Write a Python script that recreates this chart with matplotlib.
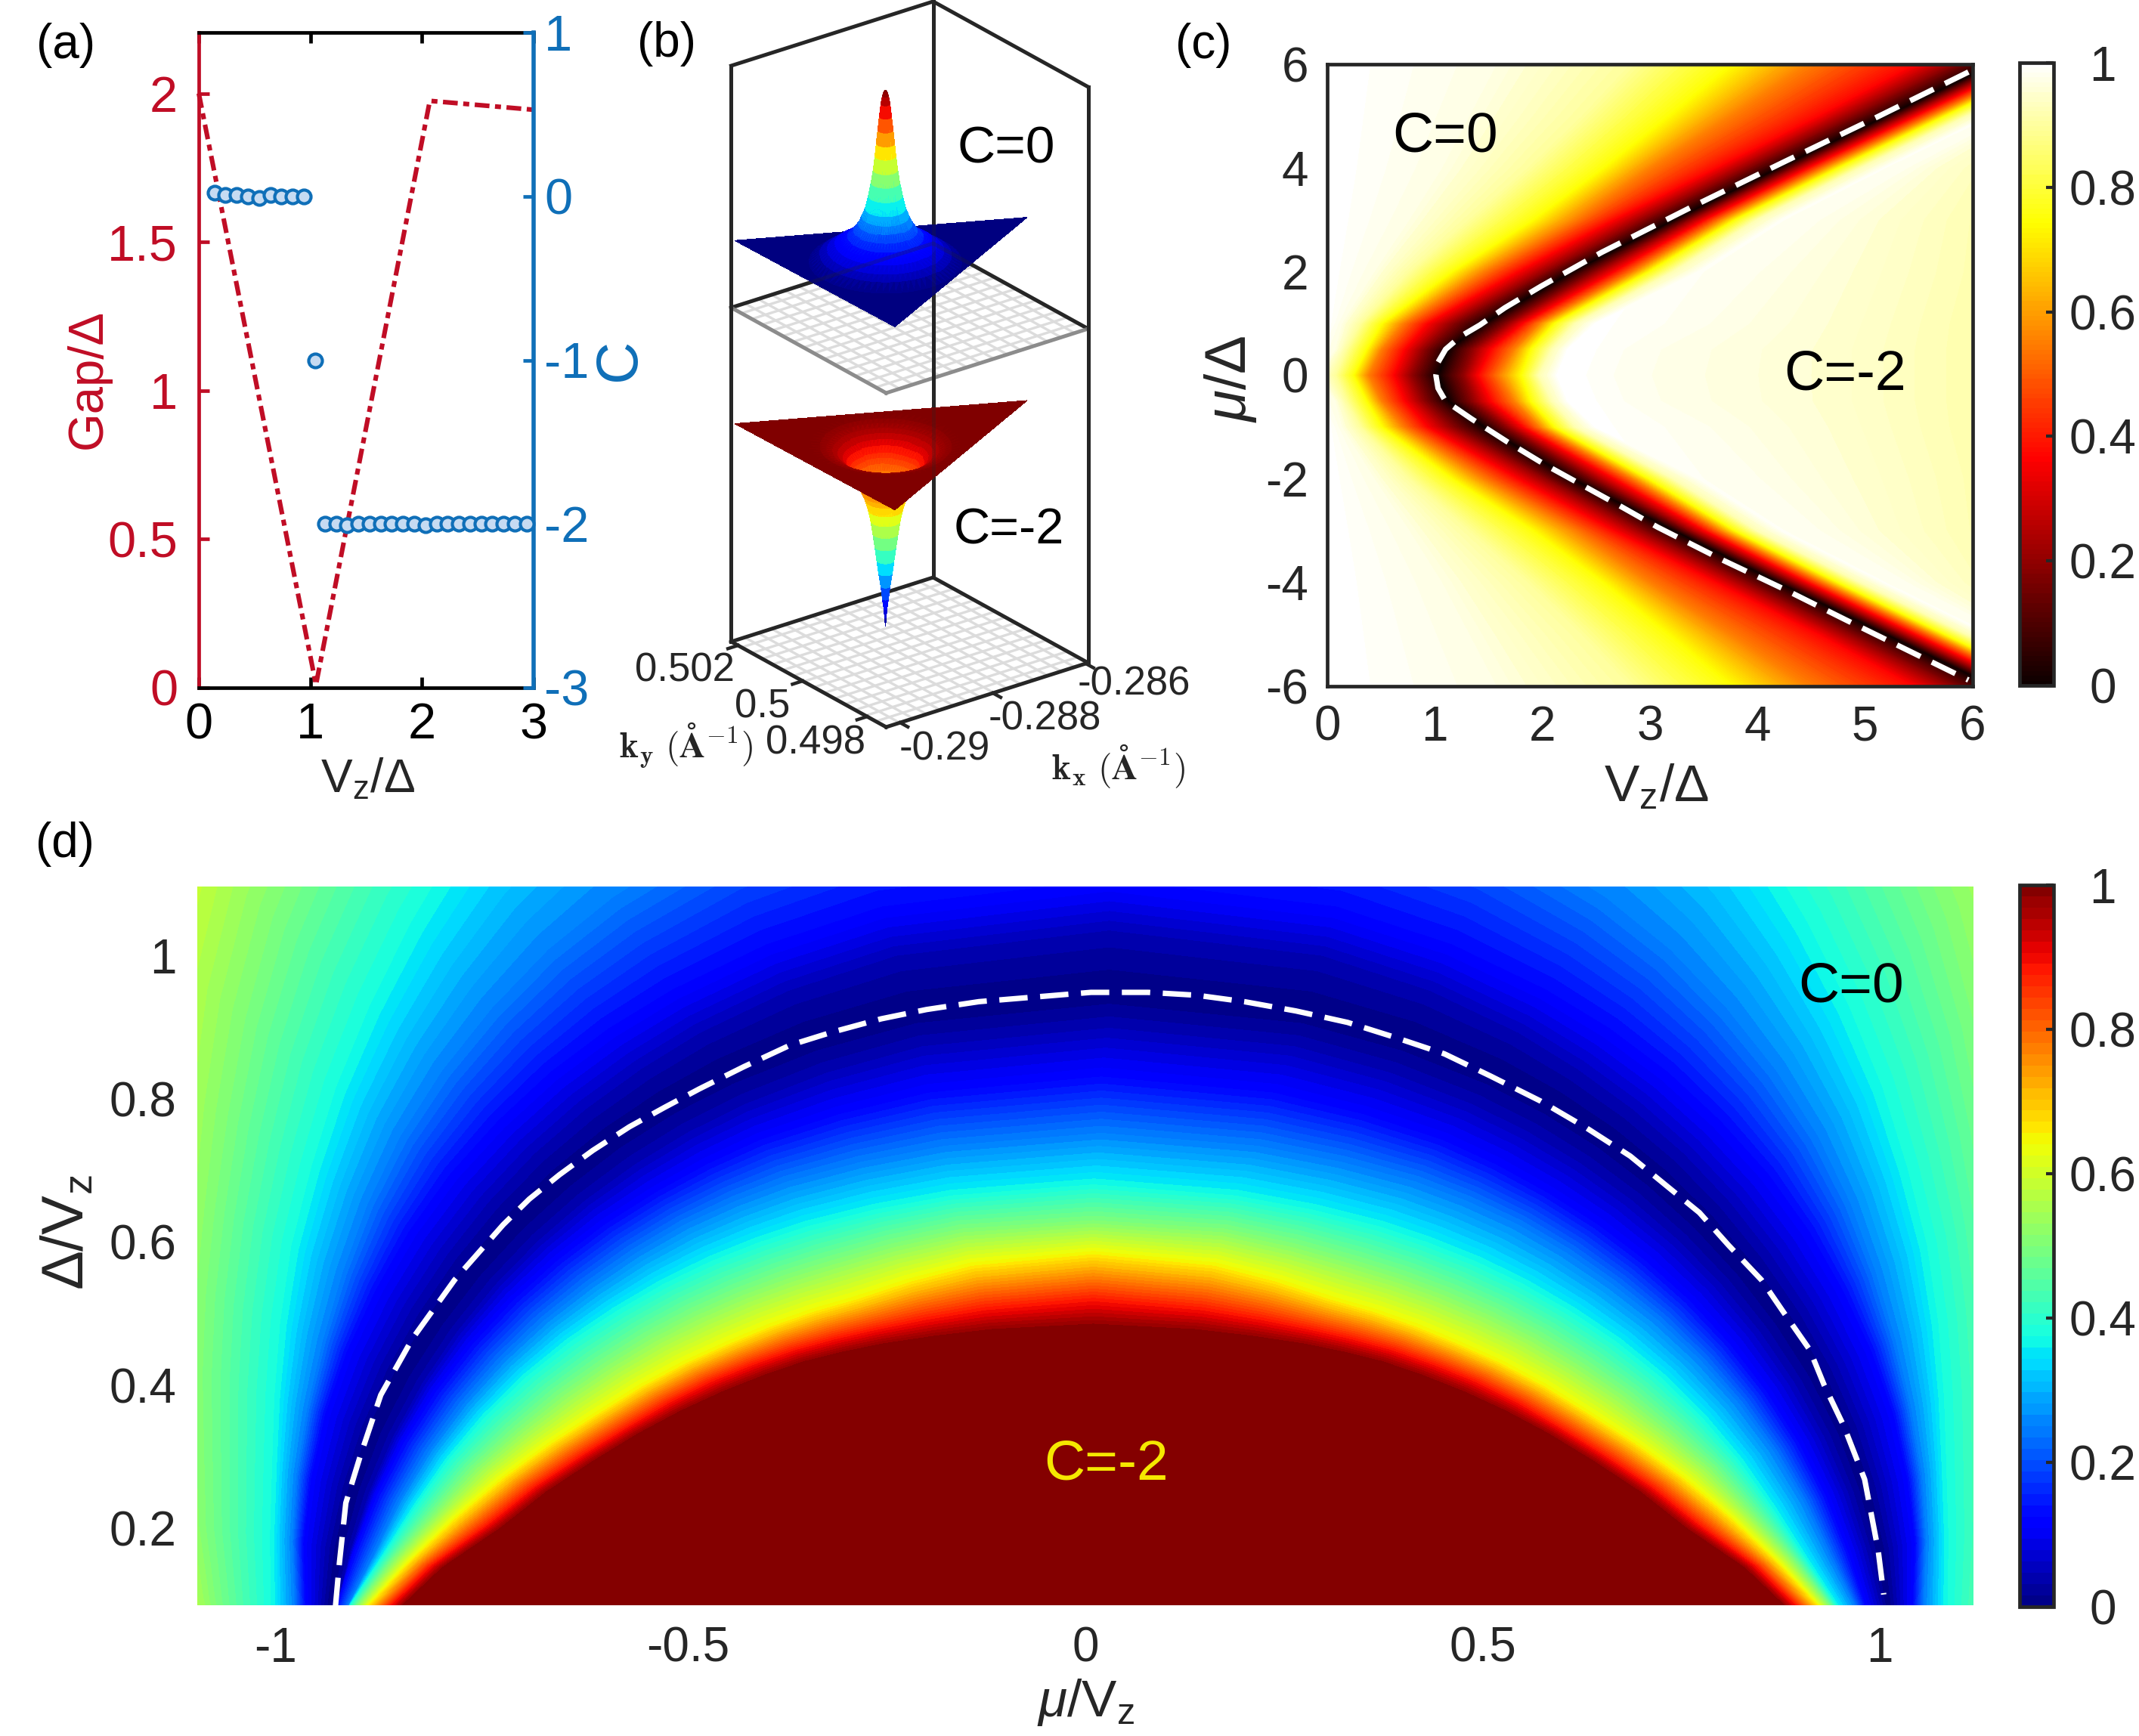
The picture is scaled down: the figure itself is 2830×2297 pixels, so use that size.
import numpy as np
import matplotlib
matplotlib.use("Agg")
import matplotlib.pyplot as plt
from matplotlib.transforms import ScaledTranslation

plt.rcParams['font.family'] = ['Liberation Sans', 'DejaVu Sans']
plt.rcParams['mathtext.fontset'] = 'custom'
plt.rcParams['mathtext.rm'] = 'Liberation Sans'
plt.rcParams['mathtext.it'] = 'Liberation Sans:italic'
plt.rcParams['axes.unicode_minus'] = False

W, H = 2830, 2297
DARK = '#262626'
RED = '#c00d25'
BLUE = '#0f6fb8'

# (a) gap and Chern number
gap_v = [0, 1.05, 2.07, 3]
gap_val = [2.0, 0.01, 1.975, 1.945]
c_v1 = [0.14, 0.24, 0.34, 0.44, 0.54, 0.64, 0.74, 0.84, 0.94]
c_val1 = [0.02, 0.01, 0.01, 0, -0.01, 0.01, 0, 0, 0]
c_v2 = [1.04]
c_val2 = [-1.0]
c_v3 = [1.13, 1.23, 1.33, 1.43, 1.53, 1.63, 1.73, 1.83, 1.93, 2.03,
        2.13, 2.23, 2.33, 2.43, 2.53, 2.63, 2.73, 2.83, 2.94]
c_val3 = [-2, -2, -2.01, -2, -2, -2, -2, -2, -2, -2.01,
          -2, -2, -2, -2, -2, -2, -2, -2, -2]

# (b) k-space limits, tick values, sheet corners, radial profiles
kx_lim = [-0.2903, -0.28595]
ky_lim = [0.49741, 0.50221]
kx_ticks = [-0.29, -0.288, -0.286]
ky_ticks = [0.498, 0.5, 0.502]
z_mid = 0.58
z_upper = 0.697
z_lower = 0.379
sheet_kx = [-0.29026, -0.29021, -0.28569]
sheet_ky = [0.50216, 0.49727, 0.49967]
hump_kx = -0.28873
hump_ky = 0.49969
peak_r = [.006, .012, .018, .024, .03, .036, .041, .048, .056, .067, .079, .092, .106, .125,
          .15, .175, .2, .23, .26, .3]
peak_dz = [.295, .288, .274, .252, .229, .206, .184, .16, .138, .115, .093, .079, .066, .054,
           .043, .036, .03, .02, .012, 0]
peak_top = 0.298
dip_r = [.003, .006, .012, .018, .027, .034, .042, .05, .058, .068, .08, .09, .10, .11, .12,
         .13, .14, .155, .17, .19, .21, .235, .26, .3]
dip_dz = [.30, .285, .267, .245, .222, .2, .176, .153, .131, .112, .095, .085, .075, .065, .055,
          .047, .04, .03, .022, .015, .01, .006, .003, 0]
dip_bottom = 0.315

# (c) for each mu row, the Vz where the colour value reaches each level
c_levels = [1.0, .97, .9, .75, .55, .37, .2, 0, .2, .37, .55, .75, .92, .99, .98, .95, .91]
c_peak = [1.0, 1.0, .995, .985, .985, .985, .985, .985]
c_mu = [0, 0.5, 1, 2, 3, 4, 5, 6]
c_vz = [
    [-.4, -.1, .07, .24, .38, .61, .78, 1.03, 1.27, 1.41, 1.60, 1.81, 1.97, 2.15, 2.8, 4.7, 6.2],
    [-.2, .07, .17, .36, .50, .71, .89, 1.13, 1.36, 1.53, 1.74, 1.90, 2.09, 2.25, 2.9, 4.7, 6.2],
    [0, .13, .30, .50, .70, .92, 1.15, 1.46, 1.68, 1.83, 1.98, 2.12, 2.31, 2.5, 3.4, 4.8, 6.2],
    [0, .43, .75, 1.15, 1.45, 1.76, 2.02, 2.28, 2.5, 2.68, 2.85, 3.0, 3.22, 3.45, 3.9, 5.0, 6.3],
    [0, .75, 1.3, 1.9, 2.3, 2.65, 2.92, 3.23, 3.38, 3.52, 3.66, 3.80, 4.0, 4.22, 4.5, 5.2, 6.3],
    [0, 1.05, 1.85, 2.55, 3.0, 3.6, 3.88, 4.2, 4.35, 4.48, 4.62, 4.76, 4.96, 5.17, 5.35, 5.7, 6.4],
    [0, 1.3, 2.35, 3.15, 3.75, 4.55, 4.85, 5.2, 5.35, 5.48, 5.62, 5.75, 5.95, 6.15, 6.3, 6.5, 6.8],
    [0, 1.55, 2.8, 3.73, 4.48, 5.44, 5.8, 6.2, 6.35, 6.48, 6.62, 6.75, 6.95, 7.15, 7.3, 7.5, 8.0],
]
c_line_v = [5.96, 5.11, 4.26, 3.41, 2.55, 1.99, 1.65, 1.42, 1.24, 1.1, 1.03, 1.01, 1.03, 1.1, 1.34,
            1.67, 2.02, 2.37, 2.72, 3.07, 3.69, 4.26, 4.82, 5.39, 5.96]
c_line_mu = [5.85, 4.98, 4.13, 3.27, 2.37, 1.72, 1.3, .97, .75, .5, .25, 0, -.25, -.5, -.84,
             -1.28, -1.72, -2.12, -2.52, -2.93, -3.58, -4.14, -4.72, -5.3, -5.88]

# (d) along rays from the dome centre, the radius where each colour level sits
d_theta = [0, 5, 10, 15, 20, 25, 30, 35, 40, 45, 50, 55, 60, 67, 75, 90]
d_levels = [1.0, 1.0, .88, .65, .5, .37, .25, .12, .04, 0, .04, .12, .25, .37, .5, .65]
d_center = [.01, .01, .01, .01, .01, .01, .02, .02, .03, .03, .03, .03, .03, .03, .03, .03]
d_radius = [
    [0, 0, 0, 0, 0, 0, 0, 0, 0, 0, 0, 0, 0, 0, 0, 0],
    [.95, .885, .83, .77, .73, .692, .66, .631, .605, .582, .562, .542, .525, .505, .49, .48],
    [.952, .90, .847, .79, .75, .712, .68, .654, .63, .607, .587, .568, .552, .536, .525, .52],
    [.955, .925, .875, .83, .79, .753, .72, .694, .67, .648, .63, .614, .60, .592, .588, .584],
    [.963, .937, .895, .858, .83, .80, .775, .751, .73, .71, .692, .676, .662, .649, .64, .63],
    [.968, .945, .91, .885, .865, .845, .825, .805, .785, .767, .75, .734, .72, .703, .69, .682],
    [.975, .955, .93, .915, .90, .885, .87, .855, .84, .827, .815, .802, .79, .773, .76, .752],
    [.98, .968, .955, .945, .935, .925, .915, .905, .895, .885, .875, .867, .86, .848, .84, .834],
    [.983, .977, .97, .965, .96, .955, .95, .945, .94, .935, .93, .925, .92, .914, .91, .905],
    [.985, .985, .985, .985, .985, .983, .98, .978, .976, .974, .972, .969, .965, .96, .955, .95],
    [.99, .995, 1.0, 1.003, 1.006, 1.008, 1.01, 1.012, 1.015, 1.018, 1.02, 1.022, 1.025, 1.028, 1.03, 1.03],
    [1.005, 1.015, 1.03, 1.04, 1.05, 1.058, 1.065, 1.073, 1.08, 1.085, 1.09, 1.093, 1.095, 1.098, 1.10, 1.10],
    [1.02, 1.03, 1.045, 1.06, 1.075, 1.093, 1.115, 1.14, 1.165, 1.188, 1.21, 1.232, 1.25, 1.272, 1.29, 1.31],
    [1.045, 1.057, 1.07, 1.088, 1.115, 1.148, 1.185, 1.222, 1.265, 1.31, 1.36, 1.415, 1.47, 1.53, 1.57, 1.6],
    [1.10, 1.13, 1.155, 1.18, 1.215, 1.255, 1.30, 1.355, 1.42, 1.49, 1.56, 1.625, 1.68, 1.75, 1.8, 1.85],
    [1.17, 1.2, 1.24, 1.28, 1.33, 1.38, 1.44, 1.525, 1.62, 1.71, 1.8, 1.88, 1.95, 2.03, 2.1, 2.2],
]
d_line_mu = [-.944, -.939, -.931, -.913, -.887, -.847, -.794, -.733, -.70, -.662, -.62, -.574, -.53,
             -.486, -.43, -.372, -.32, -.257, -.2, -.134, .007, .079, .14, .200, .265, .330, .39,
             .452, .51, .573, .63, .686, .73, .773, .81, .851, .88, .912, .93, .955, .981, .998, 1.005]
d_line_delta = [.091, .152, .235, .300, .386, .465, .547, .624, .66, .694, .728, .761, .788,
                .814, .845, .875, .893, .912, .925, .936, .949, .949, .945, .936, .923, .907, .886,
                .863, .832, .797, .76, .72, .68, .641, .595, .547, .5, .449, .4, .342, .268, .169, .107]


def box(left, top, right, bottom, **kw):
    return fig.add_axes([left / W, 1 - bottom / H, (right - left) / W, (bottom - top) / H], **kw)


def label(x, y, s, **kw):
    kw.setdefault('ha', 'center')
    kw.setdefault('va', 'center')
    kw.setdefault('fontsize', 46)
    kw.setdefault('color', 'black')
    return fig.text(x / W, 1 - y / H, s, **kw)


def add_colorbar(cf, left, top, right, bottom):
    cax = box(left, top, right, bottom)
    cb = fig.colorbar(cf, cax=cax, ticks=[0, .2, .4, .6, .8, 1])
    cb.ax.set_yticklabels(['0', '0.2', '0.4', '0.6', '0.8', '1'], ha='center')
    cb.ax.tick_params(direction='in', length=7, width=3, labelsize=46, colors=DARK, pad=47)
    cb.outline.set_linewidth(3.4)
    cb.outline.set_edgecolor(DARK)
    return cb


fig = plt.figure(figsize=(W / 100, H / 100), dpi=100)

# panel (b) first, its axes overlap the neighbours
s3 = 1300
cx3, cy3 = 1203.5, 482
ax3 = fig.add_axes([(cx3 - 0.5135 * s3) / W, (H - cy3 - 0.5135 * s3) / H, s3 / W, s3 / H],
                   projection='3d', proj_type='ortho')
ax3.patch.set_alpha(0)
ax3.set_axis_off()
ax3.computed_zorder = False
ax3.view_init(elev=24.76, azim=-127.23)
ax3.set_box_aspect((335.6, 338.9, 839.5), zoom=937 / s3)
ax3.set_xlim(kx_lim, view_margin=0)
ax3.set_ylim(ky_lim, view_margin=0)
ax3.set_zlim(0, 1, view_margin=0)
x0, x1 = kx_lim
y0, y1 = ky_lim


def floor(z, front_color, zo):
    for gx in np.linspace(x0, x1, 16)[1:-1]:
        ax3.plot([gx, gx], [y0, y1], [z, z], color='#dcdcdc', lw=2.4, zorder=zo)
    for gy in np.linspace(y0, y1, 16)[1:-1]:
        ax3.plot([x0, x1], [gy, gy], [z, z], color='#dcdcdc', lw=2.4, zorder=zo)
    ax3.plot([x0, x1, x1], [y1, y1, y0], [z, z, z], color=DARK, lw=3.6, zorder=zo)
    ax3.plot([x0, x1], [y0, y0], [z, z], color=front_color, lw=3.6, zorder=zo + 0.1)
    ax3.plot([x0, x0], [y0, y1], [z, z], color=front_color, lw=3.6, zorder=zo + 0.1)


def sheet(z0, centre_dz, rings, dzs, sign):
    ang = np.radians(np.arange(0, 360, 5))
    xs = [hump_kx]
    ys = [hump_ky]
    zs = [z0 + sign * centre_dz]
    for r, dz in zip(rings, dzs):
        xs.extend(hump_kx + r * (x1 - x0) * np.cos(ang))
        ys.extend(hump_ky + r * (y1 - y0) * np.sin(ang))
        zs.extend(np.full(ang.size, z0 + sign * dz))
    xs.extend(sheet_kx)
    ys.extend(sheet_ky)
    zs.extend([z0] * 3)
    if sign > 0:
        lo, hi = z0, z0 + centre_dz
    else:
        lo, hi = z0 - centre_dz, z0
    return ax3.plot_trisurf(np.array(xs), np.array(ys), np.array(zs), cmap='jet', vmin=lo, vmax=hi,
                            linewidth=0, antialiased=False, shade=False, zorder=5)


floor(0, DARK, 1)
floor(z_mid, '#8c8c8c', 2)
for (vx, vy) in [(x0, y1), (x1, y1), (x1, y0)]:
    ax3.plot([vx, vx], [vy, vy], [0, 1], color=DARK, lw=3.6, zorder=3)
ax3.plot([x0, x1, x1], [y1, y1, y0], [1, 1, 1], color=DARK, lw=3.6, zorder=3)
for t in kx_ticks:
    ax3.plot([t, t], [y0, y0 - 0.05 * (y1 - y0)], [0, 0], color=DARK, lw=3.2, zorder=3)
for t in ky_ticks:
    ax3.plot([x0, x0 - 0.05 * (x1 - x0)], [t, t], [0, 0], color=DARK, lw=3.2, zorder=3)
sheet(z_lower, dip_bottom, dip_r, dip_dz, -1)
sheet(z_upper, peak_top, peak_r, peak_dz, 1)
# the back edges shine faintly through the sheets
ax3.plot([x1, x1], [y1, y1], [0, 1], color=DARK, lw=3.6, alpha=0.25, zorder=6)
ax3.plot([x0, x1, x1], [y1, y1, y0], [z_mid] * 3, color=DARK, lw=3.6, alpha=0.25, zorder=6)

label(1331, 197, 'C=0', fontsize=50)
label(1335, 702, 'C=-2', fontsize=48)
label(906, 888, '0.502', fontsize=38, color=DARK)
label(1009, 935, '0.5', fontsize=38, color=DARK)
label(1079, 983, '0.498', fontsize=38, color=DARK)
label(1500, 906, '-0.286', fontsize=38, color=DARK)
label(1382, 952, '-0.288', fontsize=38, color=DARK)
label(1250, 992, '-0.29', fontsize=38, color=DARK)
label(907, 986, r'$\mathbf{k_y}\ (\mathbf{\AA}^{-1})$', fontsize=34, color=DARK, math_fontfamily='cm')
label(1479, 1014, r'$\mathbf{k_x}\ (\mathbf{\AA}^{-1})$', fontsize=34, color=DARK, math_fontfamily='cm')

# panel (a)
axa = box(263, 43, 706, 910)
axa.patch.set_alpha(0)
axa.plot(gap_v, gap_val, color=RED, lw=4.4, ls=(0, (3.2, 1.2, 1.3, 1.2)), clip_on=False, zorder=3)
axa.set_xlim(0, 3)
axa.set_ylim(0, 2.205)
axa.set_xticks([0, 1, 2, 3])
axa.set_yticks([0, .5, 1, 1.5, 2])
axa.set_yticklabels(['0', '0.5', '1', '1.5', '2'])
axa.tick_params(axis='x', direction='in', top=True, length=10, width=3.4, labelsize=48, pad=14, colors='black')
axa.tick_params(axis='y', direction='in', length=10, width=3.4, labelsize=48, pad=20, colors=RED)
for s in axa.spines.values():
    s.set_linewidth(3.4)
axa.spines['left'].set_color(RED)
axa.spines['right'].set_visible(False)
axb = axa.twinx()
axb.patch.set_alpha(0)
for cv, cy in [(c_v1, c_val1), (c_v2, c_val2), (c_v3, c_val3)]:
    axb.plot(cv, cy, ls='none', marker='o', ms=13, mfc='#c6dbf2', mec=BLUE, mew=3, clip_on=False, zorder=4)
axb.set_ylim(-3, 1)
axb.set_yticks([-3, -2, -1, 0, 1])
axb.set_yticklabels(['-3', '-2', '-1', '0', '1'])
axb.tick_params(axis='y', direction='in', length=10, width=3.4, labelsize=48, pad=10, colors=BLUE)
for s in axb.spines.values():
    s.set_visible(False)
axb.spines['right'].set_visible(True)
axb.spines['right'].set_color(BLUE)
axb.spines['right'].set_linewidth(4)
label(117, 502, 'Gap/Δ', color=RED, rotation=90, fontsize=47)
label(819, 476, 'C', color=BLUE, rotation=90, fontsize=56)
label(487, 1031, r'V$_{\mathrm{z}}$/Δ', fontsize=45, color=DARK)

# panel (c)
axc = box(1756, 85, 2610, 908)
half_v = np.array(c_vz)
half_mu = np.array(c_mu)
c_x = np.vstack([half_v[:0:-1], half_v])
c_y = np.concatenate([-half_mu[:0:-1], half_mu])
c_y = np.tile(c_y[:, None], (1, half_v.shape[1]))
c_z = np.tile(np.array(c_levels), (c_x.shape[0], 1))
c_z[:, 13] = np.concatenate([c_peak[:0:-1], c_peak])
cf_c = axc.contourf(c_x, c_y, c_z, levels=np.linspace(0, 1.0001, 129), cmap='hot', antialiased=False)
axc.plot(c_line_v, c_line_mu, color='white', lw=5.2, ls=(0, (4.8, 2.3)))
axc.set_xlim(0, 6)
axc.set_ylim(-6, 6)
axc.set_xticks(range(0, 7))
axc.set_yticks(range(-6, 7, 2))
axc.tick_params(length=0, labelsize=46, colors=DARK, pad=18)
for s in axc.spines.values():
    s.set_linewidth(3.4)
    s.set_color(DARK)
add_colorbar(cf_c, 2672, 83, 2717, 907)
label(1912, 181, 'C=0', fontsize=54)
label(2441, 496, 'C=-2', fontsize=53)
label(1628, 501, r'$\mu$/Δ', rotation=90, fontsize=55, color=DARK)
label(2191, 1042, r'V$_{\mathrm{z}}$/Δ', fontsize=50, color=DARK)

# panel (d)
axd = box(261, 1173, 2611, 2124)
half_r = np.array(d_radius)
theta = np.radians(np.concatenate([d_theta, 180 - np.array(d_theta)[-2::-1]]))
d_r = np.hstack([half_r, half_r[:, -2::-1]])
d_x = np.array(d_center)[:, None] + d_r * np.cos(theta)
d_y = d_r * np.sin(theta)
d_z = np.tile(np.array(d_levels)[:, None], (1, theta.size))
cf_d = axd.contourf(d_x, d_y, d_z, levels=np.linspace(0, 1.0001, 65), cmap='jet', antialiased=False)
axd.plot(d_line_mu, d_line_delta, color='white', lw=5.2, ls=(0, (5.2, 2.3)))
axd.set_xlim(-1.118, 1.118)
axd.set_ylim(0.092, 1.097)
axd.set_xticks([-1, -.5, 0, .5, 1])
axd.set_xticklabels(['-1', '-0.5', '0', '0.5', '1'])
axd.set_yticks([.2, .4, .6, .8, 1])
axd.set_yticklabels(['0.2', '0.4', '0.6', '0.8', '1'])
axd.tick_params(length=0, labelsize=46, colors=DARK, pad=20)
# the -1 label sits a little left of its position in the original
lbl = axd.get_xticklabels()[0]
lbl.set_transform(lbl.get_transform() + ScaledTranslation(-0.2, 0, fig.dpi_scale_trans))
for s in axd.spines.values():
    s.set_visible(False)
add_colorbar(cf_d, 2672, 1171, 2717, 2126)
label(2449, 1306, 'C=0', fontsize=54)
label(1464, 1938, 'C=-2', fontsize=54, color='#f5e800')
label(90, 1631, r'Δ/V$_{\mathrm{z}}$', rotation=90, fontsize=56, color=DARK)
label(1437, 2252, r'$\mu$/V$_{\mathrm{z}}$', fontsize=50, color=DARK)

label(87, 60, '(a)')
label(882, 58, '(b)')
label(1592, 60, '(c)')
label(86, 1117, '(d)')

fig.savefig('out.png', dpi=100)
